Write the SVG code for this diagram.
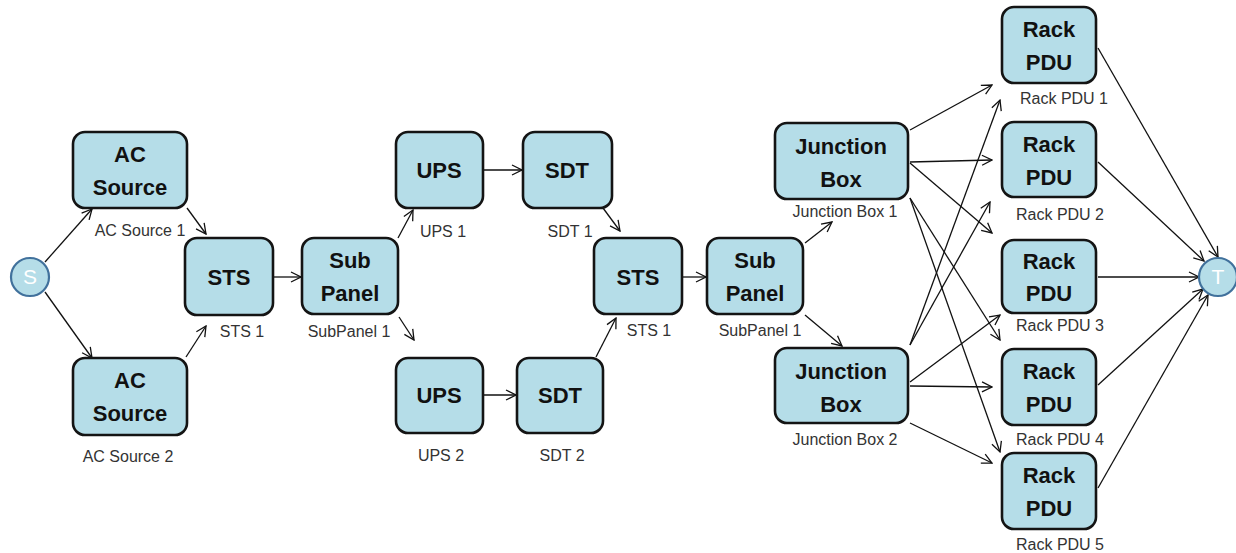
<svg xmlns="http://www.w3.org/2000/svg" width="1236" height="553" viewBox="0 0 1236 553">
  <style>
    .box { fill: #b5dde8; stroke: #141414; stroke-width: 2.6; }
    .term { fill: #b5dde8; stroke: #41719c; stroke-width: 2.2; }
    .name { font-family: "Liberation Sans", Arial, sans-serif; font-weight: bold; font-size: 22px; fill: #111; text-anchor: middle; }
    .tname { font-family: "Liberation Sans", Arial, sans-serif; font-size: 21px; fill: #ffffff; text-anchor: middle; }
    .lbl { font-family: "Liberation Sans", Arial, sans-serif; font-size: 16px; fill: #333; text-anchor: middle; }
    .edge { stroke: #111; stroke-width: 1.3; fill: none; marker-end: url(#arr); }
  </style>
  <defs>
    <marker id="arr" viewBox="0 0 12 12" refX="11" refY="6" markerWidth="12" markerHeight="12" markerUnits="userSpaceOnUse" orient="auto">
      <path d="M1,1 L11,6 L1,11" fill="none" stroke="#111" stroke-width="1.3"/>
    </marker>
  </defs>
  <rect width="1236" height="553" fill="#ffffff"/>

  <!-- connectors -->
  <g id="connectors">
    <line class="edge" x1="45" y1="262" x2="92" y2="209"/>
    <line class="edge" x1="45" y1="292" x2="92" y2="358"/>
    <line class="edge" x1="187" y1="208" x2="206" y2="234"/>
    <line class="edge" x1="186" y1="357" x2="206" y2="326"/>
    <line class="edge" x1="273" y1="277" x2="301" y2="277"/>
    <line class="edge" x1="398" y1="238" x2="413" y2="210"/>
    <line class="edge" x1="399" y1="317" x2="414" y2="340"/>
    <line class="edge" x1="483" y1="170" x2="522" y2="170"/>
    <line class="edge" x1="483" y1="395" x2="516" y2="395"/>
    <line class="edge" x1="603" y1="208" x2="620" y2="231"/>
    <line class="edge" x1="596" y1="357" x2="616" y2="318"/>
    <line class="edge" x1="682" y1="277" x2="706" y2="277"/>
    <line class="edge" x1="805" y1="243" x2="832" y2="222"/>
    <line class="edge" x1="805" y1="315" x2="842" y2="346"/>
    <!-- junction box 1 fan-out -->
    <line class="edge" x1="910" y1="130" x2="992" y2="85"/>
    <line class="edge" x1="910" y1="162" x2="992" y2="160"/>
    <line class="edge" x1="910" y1="163" x2="992" y2="233"/>
    <line class="edge" x1="910" y1="198" x2="1000" y2="340"/>
    <line class="edge" x1="910" y1="198" x2="1000" y2="452"/>
    <!-- junction box 2 fan-out -->
    <line class="edge" x1="910" y1="345" x2="1000" y2="100"/>
    <line class="edge" x1="910" y1="345" x2="990" y2="202"/>
    <line class="edge" x1="910" y1="382" x2="1000" y2="315"/>
    <line class="edge" x1="910" y1="386" x2="992" y2="387"/>
    <line class="edge" x1="910" y1="423" x2="992" y2="463"/>
    <!-- rack PDUs to sink -->
    <line class="edge" x1="1098" y1="48" x2="1218" y2="257"/>
    <line class="edge" x1="1098" y1="162" x2="1204" y2="261"/>
    <line class="edge" x1="1098" y1="277" x2="1199" y2="277"/>
    <line class="edge" x1="1098" y1="385" x2="1203" y2="289"/>
    <line class="edge" x1="1098" y1="488" x2="1208" y2="295"/>
  </g>

  <g id="S">
    <circle class="term" cx="30" cy="277" r="19"/>
    <text class="tname" x="30" y="284">S</text>
  </g>
  <g id="T">
    <circle class="term" cx="1218" cy="277" r="19"/>
    <text class="tname" x="1218" y="284">T</text>
  </g>

  <g id="ac-source-1">
    <rect class="box" x="73" y="132" width="114" height="76" rx="12"/>
    <text class="name" x="130" y="162">AC</text>
    <text class="name" x="130" y="195">Source</text>
    <text class="lbl" x="140" y="236">AC Source 1</text>
  </g>
  <g id="ac-source-2">
    <rect class="box" x="73" y="358" width="114" height="77" rx="12"/>
    <text class="name" x="130" y="388">AC</text>
    <text class="name" x="130" y="421">Source</text>
    <text class="lbl" x="128" y="462">AC Source 2</text>
  </g>
  <g id="sts-a">
    <rect class="box" x="185" y="238" width="88" height="77" rx="12"/>
    <text class="name" x="229" y="285">STS</text>
    <text class="lbl" x="242" y="337">STS 1</text>
  </g>
  <g id="subpanel-a">
    <rect class="box" x="302" y="238" width="96" height="76" rx="12"/>
    <text class="name" x="350" y="268">Sub</text>
    <text class="name" x="350" y="301">Panel</text>
    <text class="lbl" x="349" y="337">SubPanel 1</text>
  </g>
  <g id="ups-1">
    <rect class="box" x="396" y="132" width="87" height="76" rx="12"/>
    <text class="name" x="439" y="178">UPS</text>
    <text class="lbl" x="443" y="237">UPS 1</text>
  </g>
  <g id="ups-2">
    <rect class="box" x="396" y="358" width="87" height="75" rx="12"/>
    <text class="name" x="439" y="403">UPS</text>
    <text class="lbl" x="441" y="461">UPS 2</text>
  </g>
  <g id="sdt-1">
    <rect class="box" x="523" y="132" width="89" height="76" rx="12"/>
    <text class="name" x="567" y="178">SDT</text>
    <text class="lbl" x="570" y="237">SDT 1</text>
  </g>
  <g id="sdt-2">
    <rect class="box" x="517" y="358" width="86" height="75" rx="12"/>
    <text class="name" x="560" y="403">SDT</text>
    <text class="lbl" x="562" y="461">SDT 2</text>
  </g>
  <g id="sts-b">
    <rect class="box" x="594" y="238" width="88" height="76" rx="12"/>
    <text class="name" x="638" y="285">STS</text>
    <text class="lbl" x="649" y="336">STS 1</text>
  </g>
  <g id="subpanel-b">
    <rect class="box" x="707" y="238" width="96" height="76" rx="12"/>
    <text class="name" x="755" y="268">Sub</text>
    <text class="name" x="755" y="301">Panel</text>
    <text class="lbl" x="760" y="336">SubPanel 1</text>
  </g>
  <g id="junction-box-1">
    <rect class="box" x="775" y="123" width="133" height="76" rx="12"/>
    <text class="name" x="841" y="154">Junction</text>
    <text class="name" x="841" y="187">Box</text>
    <text class="lbl" x="845" y="217">Junction Box 1</text>
  </g>
  <g id="junction-box-2">
    <rect class="box" x="775" y="348" width="133" height="75" rx="12"/>
    <text class="name" x="841" y="379">Junction</text>
    <text class="name" x="841" y="412">Box</text>
    <text class="lbl" x="845" y="445">Junction Box 2</text>
  </g>
  <g id="rack-pdu-1">
    <rect class="box" x="1002" y="7" width="94" height="76" rx="12"/>
    <text class="name" x="1049" y="37">Rack</text>
    <text class="name" x="1049" y="70">PDU</text>
    <text class="lbl" x="1064" y="104">Rack PDU 1</text>
  </g>
  <g id="rack-pdu-2">
    <rect class="box" x="1002" y="122" width="94" height="75" rx="12"/>
    <text class="name" x="1049" y="152">Rack</text>
    <text class="name" x="1049" y="185">PDU</text>
    <text class="lbl" x="1060" y="220">Rack PDU 2</text>
  </g>
  <g id="rack-pdu-3">
    <rect class="box" x="1002" y="240" width="94" height="73" rx="12"/>
    <text class="name" x="1049" y="269">Rack</text>
    <text class="name" x="1049" y="301">PDU</text>
    <text class="lbl" x="1060" y="331">Rack PDU 3</text>
  </g>
  <g id="rack-pdu-4">
    <rect class="box" x="1002" y="349" width="94" height="76" rx="12"/>
    <text class="name" x="1049" y="379">Rack</text>
    <text class="name" x="1049" y="412">PDU</text>
    <text class="lbl" x="1060" y="445">Rack PDU 4</text>
  </g>
  <g id="rack-pdu-5">
    <rect class="box" x="1002" y="453" width="94" height="76" rx="12"/>
    <text class="name" x="1049" y="483">Rack</text>
    <text class="name" x="1049" y="516">PDU</text>
    <text class="lbl" x="1060" y="550">Rack PDU 5</text>
  </g>
</svg>
